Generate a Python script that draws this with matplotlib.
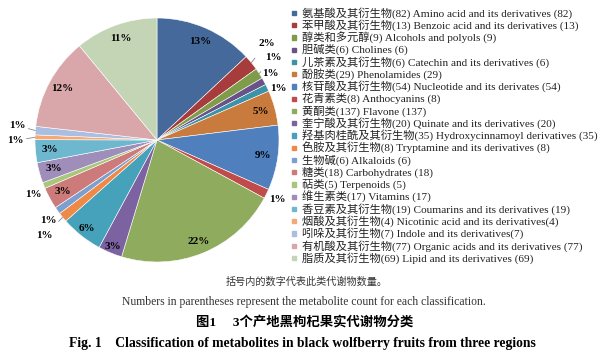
import matplotlib
matplotlib.use('Agg')
import matplotlib.pyplot as plt
import numpy as np

plt.rcParams['font.family'] = ['Liberation Serif', 'Noto Sans CJK SC']

# 数据
names_cn = ['氨基酸及其衍生物', '苯甲酸及其衍生物', '醇类和多元醇', '胆碱类',
            '儿茶素及其衍生物', '酚胺类', '核苷酸及其衍生物', '花青素类', '黄酮类',
            '奎宁酸及其衍生物', '羟基肉桂酰及其衍生物', '色胺及其衍生物', '生物碱',
            '糖类', '萜类', '维生素类', '香豆素及其衍生物', '烟酸及其衍生物',
            '吲哚及其衍生物', '有机酸及其衍生物', '脂质及其衍生物']
names_en = ['Amino acid and its derivatives ({})', 'Benzoic acid and its derivatives ({})',
            'Alcohols and polyols ({})', 'Cholines ({})', 'Catechin and its derivatives ({})',
            'Phenolamides ({})', 'Nucleotide and its derivates ({})', 'Anthocyanins ({})',
            'Flavone ({})', 'Quinate and its derivatives ({})',
            'Hydroxycinnamoyl derivatives ({})', 'Tryptamine and its derivatives ({})',
            'Alkaloids ({})', 'Carbohydrates ({})', 'Terpenoids ({})', 'Vitamins ({})',
            'Coumarins and its derivatives ({})', 'Nicotinic acid and its derivatives({})',
            'Indole and its derivatives({})', 'Organic acids and its derivatives ({})',
            'Lipid and its derivatives ({})']
counts = [82, 13, 9, 6, 6, 29, 54, 8, 137, 20, 35, 8, 6, 18, 5, 17, 19, 4, 7, 77, 69]

colors = ['#44699A', '#A63C3B', '#7F9C4A', '#6A5289', '#3C93A8', '#C97B3E',
          '#4F7FBD', '#BF4C4B', '#8EAB5E', '#7C62A0', '#46A1BA', '#EE8A48',
          '#7D9FCF', '#CC7A7A', '#A9C77C', '#9F8DBA', '#6DB8CE', '#F7A877',
          '#A9BEE0', '#D9A7A9', '#C3D5B5']

# 标签距离（相对半径）、角度微调（度，正值为逆时针）及是否画引线
label_r = [0.88, 1.20, 1.17, 1.08, 1.08, 0.88, 0.88, 1.10, 0.90, 0.95, 0.92, 1.21,
           1.11, 0.88, 1.11, 0.88, 0.88, 1.16, 1.15, 0.88, 0.88]
label_dang = [0, 2.0, 2.5, 1.5, -2.5, 0, 0, 0, 0, 0, 0, 1.0,
              1.0, 0, 2.0, 0, 0, 1.5, -1.5, 0, 0]
leader = [2, 3, 12, 18, 19]

fig = plt.figure(figsize=(6.14, 3.61), dpi=100)
ax = fig.add_axes([35 / 614, 1 - 262 / 361, 244 / 614, 244 / 361])
wedges, _ = ax.pie(counts, colors=colors, startangle=90, counterclock=False,
                   wedgeprops=dict(edgecolor='white', linewidth=0.4))
ax.set_xlim(-1, 1)
ax.set_ylim(-1, 1)
ax.set_aspect('auto')

total = sum(counts)
for i, w in enumerate(wedges):
    mid = np.deg2rad((w.theta1 + w.theta2) / 2)
    ang = mid + np.deg2rad(label_dang[i])
    pct = '{:.0f}%'.format(counts[i] / total * 100)
    r = label_r[i]
    x, y = r * np.cos(ang), r * np.sin(ang)
    if i + 1 in leader:
        ax.annotate(pct, xy=(np.cos(mid), np.sin(mid)), xytext=(x, y),
                    ha='center', va='center', fontsize=8, fontweight='bold',
                    arrowprops=dict(arrowstyle='-', color='#888888', lw=0.6,
                                    shrinkA=7, shrinkB=0),
                    annotation_clip=False)
    else:
        ax.text(x, y, pct, ha='center', va='center', fontsize=8, fontweight='bold')

# 图例
y0 = 1 - 13 / 361
dy = 12.25 / 361
for i in range(len(counts)):
    yy = y0 - i * dy
    fig.patches.append(plt.Rectangle((292 / 614, yy - 2.2 / 361), 4.4 / 614, 4.4 / 361,
                                     transform=fig.transFigure, color=colors[i]))
    fig.text(302 / 614, yy, '{}({}) '.format(names_cn[i], counts[i]) + names_en[i].format(counts[i]),
             fontsize=8.1, va='center', ha='left', color='#222222')

# 图注
fig.text(0.5, 1 - 282 / 361, '括号内的数字代表此类代谢物数量。', ha='center', va='center',
         fontsize=7.3, color='#333333')
fig.text(0.495, 1 - 302 / 361,
         'Numbers in parentheses represent the metabolite count for each classification.',
         ha='center', va='center', fontsize=8.4, color='#333333')
fig.text(0.497, 1 - 323 / 361, '图1\u2003 3个产地黑枸杞果实代谢物分类', ha='center', va='center',
         fontsize=9.6, fontweight='bold')
fig.text(0.492, 1 - 344 / 361,
         'Fig. 1    Classification of metabolites in black wolfberry fruits from three regions',
         ha='center', va='center', fontsize=9.8, fontweight='bold')

plt.savefig('out.png', dpi=100, facecolor='white')
plt.close()
